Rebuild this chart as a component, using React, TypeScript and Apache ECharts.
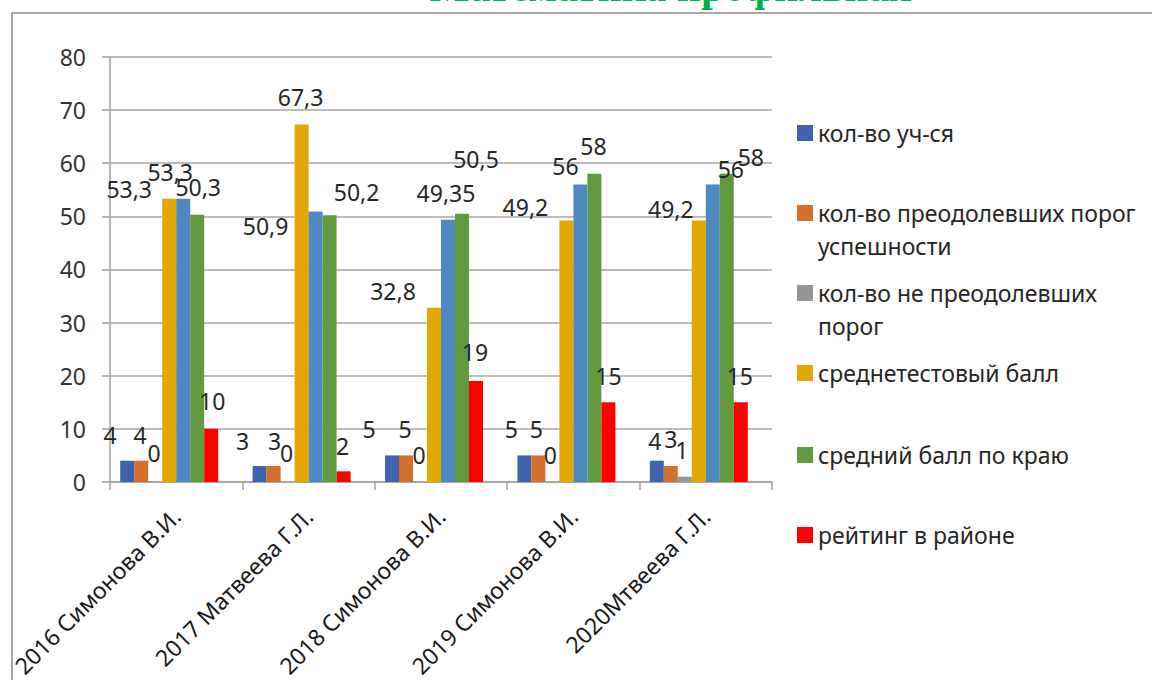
import React, { useEffect, useRef } from "react";
import * as echarts from "echarts";

const categories = [
  "2016 Симонова В.И.",
  "2017 Матвеева Г.Л.",
  "2018 Симонова В.И.",
  "2019 Симонова В.И.",
  "2020Мтвеева Г.Л.",
];

const seriesNames = [
  "кол-во уч-ся",
  "кол-во преодолевших порог успешности",
  "кол-во не преодолевших порог",
  "среднетестовый балл",
  "средний балл по району",
  "средний балл по краю",
  "рейтинг в районе",
  "ряд 8",
];

const legendLabels = [
  "кол-во уч-ся",
  "\nкол-во преодолевших порог\nуспешности",
  "\nкол-во не преодолевших\nпорог",
  "среднетестовый балл",
  "средний балл по краю",
  "рейтинг в районе",
];

const students = [4, 3, 5, 5, 4];
const passed = [4, 3, 5, 5, 3];
const failed = [0, 0, 0, 0, 1];
const avgTest = [53.3, 67.3, 32.8, 49.2, 49.2];
const avgBlue = [53.3, 50.9, 49.35, 56, 56];
const avgKrai = [50.3, 50.2, 50.5, 58, 58];
const rating = [10, 2, 19, 15, 15];
const empty = [null, null, null, null, null];

const yTicks = { min: 0, max: 80, interval: 10 };

const colors = ["#3F63AD", "#D46F2E", "#959595", "#E3A800", "#4E8AC0", "#629A3F", "#FF0000", "#7F7F7F"];

// label nudges (dx, dy) per series, per category – mimic the manually moved labels
const labelNudges: number[][][] = [
  [[-17, -9], [-17, -9], [-23, -10], [-13, -10], [-2, -3]],
  [[-1, -9], [1, -9], [-1, -10], [-2, -10], [0, -11]],
  [[-1, -12], [-1, -12], [-1, -10], [-2, -10], [-3, -10]],
  [[-40, 7], [-1, -11], [-41, 0], [-41, 3], [-28, 5]],
  [[-13, -10], [-50, 31], [-2, -10], [-15, -2], [18, 1]],
  [[1, -11], [27, -7], [14, -38], [-1, -11], [24, 0]],
  [[1, -11], [-1, -9], [-1, -13], [0, -10], [-1, -10]],
  [[0, 0], [0, 0], [0, 0], [0, 0], [0, 0]],
];

const FONT = "Noto Sans";

export default function App() {
  const ref = useRef<HTMLDivElement>(null);
  useEffect(() => {
    if (!ref.current) return;
    const chart = echarts.init(ref.current, undefined, { renderer: "svg" });
    const allData = [students, passed, failed, avgTest, avgBlue, avgKrai, rating, empty];
    const series = allData.map((arr, si) => ({
      name: seriesNames[si],
      type: "bar",
      barWidth: 14,
      barGap: "0%",
      itemStyle: { color: colors[si] },
      data: arr.map((v, ci) => ({
        value: v,
        label: { offset: labelNudges[si][ci] },
      })),
      label: {
        show: si < 7,
        position: "top",
        distance: 5,
        fontFamily: FONT,
        fontSize: 23,
        color: "#262626",
        formatter: (p: any) => String(p.value).replace(".", ","),
      },
    }));

    const legendCenters = [133, 213, 293, 373, 455, 535];
    const legendSeries = [0, 1, 2, 3, 5, 6];
    const legends = legendSeries.map((si, i) => {
      const twoLine = legendLabels[i].startsWith("\n");
      return {
        data: [seriesNames[si]],
        orient: "vertical",
        left: 797,
        top: legendCenters[i] - (twoLine ? 49.5 : 16.5),
        padding: 0,
        itemWidth: 16,
        itemHeight: 16,
        icon: "rect",
        selectedMode: false,
        formatter: () => legendLabels[i],
        textStyle: { fontFamily: FONT, fontSize: 23, color: "#262626", lineHeight: 33 },
      };
    });

    chart.setOption({
      animation: false,
      backgroundColor: "#ffffff",
      color: colors,
      legend: legends,
      grid: { left: 110, right: 380, top: 57, bottom: 197, containLabel: false },
      xAxis: {
        type: "category",
        data: categories,
        boundaryGap: true,
        axisLine: { lineStyle: { color: "#A0A0A0", width: 1.5 } },
        axisTick: { show: true, length: 8, lineStyle: { color: "#A0A0A0", width: 1.5 } },
        axisLabel: {
          rotate: 45,
          margin: 30,
          interval: 0,
          fontFamily: FONT,
          fontSize: 23,
          color: "#1a1a1a",
        },
      },
      yAxis: {
        type: "value",
        min: yTicks.min,
        max: yTicks.max,
        interval: yTicks.interval,
        axisLine: { show: true, lineStyle: { color: "#A0A0A0", width: 1.5 } },
        axisTick: { show: true, length: 8, lineStyle: { color: "#A0A0A0", width: 1.5 } },
        splitLine: { show: true, lineStyle: { color: "#A6A6A6", width: 1.5 } },
        axisLabel: { margin: 24, fontFamily: FONT, fontSize: 23, color: "#333333" },
      },
      graphic: [
        {
          type: "polyline",
          shape: { points: [[12, 690], [12, 13], [1160, 13]] },
          style: { stroke: "#8C8C8C", lineWidth: 1.5, fill: "none" },
          silent: true,
        },
        {
          type: "text",
          x: 671,
          y: 8,
          style: {
            text: "Математика профильная",
            fontFamily: "Liberation Serif",
            fontWeight: "bold",
            fontSize: 42,
            fill: "#00B050",
            textAlign: "center",
            textVerticalAlign: "bottom",
          },
        },
      ],
      series,
    });
    return () => chart.dispose();
  }, []);
  return (
    <div
      ref={ref}
      style={{ position: "fixed", left: 0, top: 0, width: 1152, height: 680, background: "#fff" }}
    />
  );
}
